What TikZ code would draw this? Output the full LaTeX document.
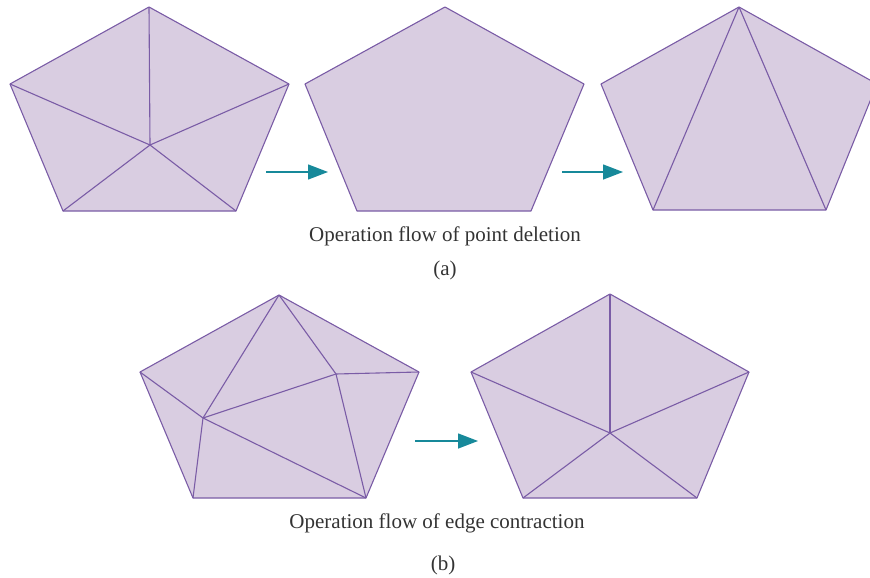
\documentclass[tikz,border=0pt]{standalone}
\usepackage{fontspec}
\setmainfont{Liberation Serif}
\usetikzlibrary{arrows.meta}
\definecolor{pfill}{HTML}{D9CDE1}
\definecolor{pline}{HTML}{7A5CA6}
\definecolor{teal2}{HTML}{17899A}
\tikzset{
  poly/.style={fill=pfill, draw=pline, line width=1.1pt, line join=round},
  edge/.style={draw=pline, line width=1.1pt},
  flow/.style={draw=teal2, line width=1.4pt, -{Triangle[length=20pt,width=15pt]}},
  captext/.style={font=\fontsize{21}{24}\selectfont, text=black!80, inner sep=0pt}
}
\begin{document}
\begin{tikzpicture}[x=1pt,y=-1pt]
\useasboundingbox (0,0) rectangle (870,578);
\clip (0,0) rectangle (870,578);
% pentagon 1
\coordinate (aT) at (149,7); \coordinate (aL) at (10,84); \coordinate (aR) at (289,84);
\coordinate (aBL) at (63,211); \coordinate (aBR) at (236,211); \coordinate (aC) at (150,145);
\draw[poly] (aT) -- (aR) -- (aBR) -- (aBL) -- (aL) -- cycle;
\foreach \v in {aT,aR,aBR,aBL,aL} \draw[edge] (aC) -- (\v);
% pentagon 2
\coordinate (bT) at (445,7); \coordinate (bL) at (305,84); \coordinate (bR) at (584,84);
\coordinate (bBL) at (357,211); \coordinate (bBR) at (531,211);
\draw[poly] (bT) -- (bR) -- (bBR) -- (bBL) -- (bL) -- cycle;
% pentagon 3
\coordinate (cT) at (739,7); \coordinate (cL) at (601,84); \coordinate (cR) at (877,84);
\coordinate (cBL) at (653,210); \coordinate (cBR) at (826,210);
\draw[poly] (cT) -- (cR) -- (cBR) -- (cBL) -- (cL) -- cycle;
\draw[edge] (cT) -- (cBL); \draw[edge] (cT) -- (cBR);
% arrows a
\coordinate (a1s) at (266,172); \coordinate (a1e) at (328,172);
\coordinate (a2s) at (562,172); \coordinate (a2e) at (623,172);
\draw[flow] (a1s) -- (a1e);
\draw[flow] (a2s) -- (a2e);
\node[captext, anchor=base] (capa) at (445,241) {Operation flow of point deletion};
\node[captext, anchor=base] (laba) at (445,275) {(a)};
% pentagon 4
\coordinate (dT) at (279,295); \coordinate (dL) at (140,372); \coordinate (dR) at (419,372);
\coordinate (dBL) at (193,498); \coordinate (dBR) at (366,498);
\coordinate (dP) at (203,418); \coordinate (dQ) at (336,374);
\draw[poly] (dT) -- (dR) -- (dBR) -- (dBL) -- (dL) -- cycle;
\draw[edge] (dT) -- (dP); \draw[edge] (dT) -- (dQ); \draw[edge] (dL) -- (dP);
\draw[edge] (dP) -- (dQ); \draw[edge] (dQ) -- (dR); \draw[edge] (dP) -- (dBL);
\draw[edge] (dP) -- (dBR); \draw[edge] (dQ) -- (dBR);
% pentagon 5
\coordinate (eT) at (610,294); \coordinate (eL) at (471,372); \coordinate (eR) at (749,372);
\coordinate (eBL) at (523,498); \coordinate (eBR) at (697,498); \coordinate (eC) at (610,433);
\draw[poly] (eT) -- (eR) -- (eBR) -- (eBL) -- (eL) -- cycle;
\foreach \v in {eT,eR,eBR,eBL,eL} \draw[edge] (eC) -- (\v);
% arrow b
\coordinate (b1s) at (415,441); \coordinate (b1e) at (478,441);
\draw[flow] (b1s) -- (b1e);
\node[captext, anchor=base] (capb) at (437,528) {Operation flow of edge contraction};
\node[captext, anchor=base] (labb) at (443,570) {(b)};
\end{tikzpicture}
\end{document}
